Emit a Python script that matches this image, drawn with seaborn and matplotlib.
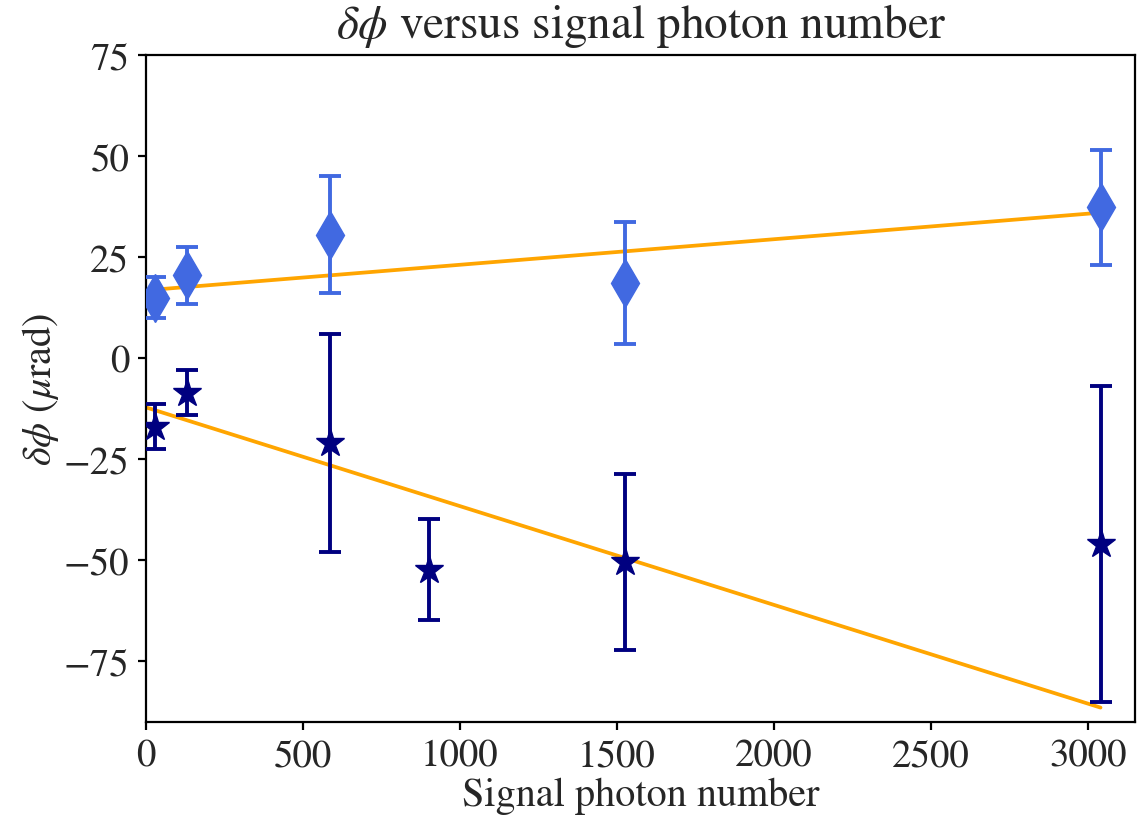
import numpy as np
import pandas as pd
import matplotlib
matplotlib.use("Agg")
import matplotlib.pyplot as plt
import seaborn as sns

# photon numbers
x_pts = [30, 130, 585, 900, 1525, 3040]

# upper series (diamonds), no point at 900
x_up = [30, 130, 585, 1525, 3040]
y_up = [15.0, 20.5, 30.6, 18.6, 37.3]
e_up = [5.0, 7.0, 14.4, 15.0, 14.3]

# lower series (stars)
x_lo = [30, 130, 585, 900, 1525, 3040]
y_lo = [-16.9, -8.5, -21.0, -52.3, -50.5, -46.0]
e_lo = [5.5, 5.6, 27.0, 12.4, 21.8, 39.0]

sns.set_theme(style="ticks")
plt.rcParams['font.family'] = ['STIXGeneral', 'DejaVu Serif']
plt.rcParams['mathtext.fontset'] = 'stix'
plt.rcParams['axes.unicode_minus'] = True

fig = plt.figure(figsize=(11.38, 8.29), dpi=100)
ax = fig.add_axes([0.1283, 0.1279, 0.8691, 0.8045])

# weighted linear fits drawn from 0 to the last photon number
xf = np.array([0, max(x_pts)])
for xs, ys, es in [(x_up, y_up, e_up), (x_lo, y_lo, e_lo)]:
    p = np.polyfit(xs, ys, 1, w=1 / np.array(es))
    fit_df = pd.DataFrame({'x': xf, 'y': np.polyval(p, xf)})
    sns.lineplot(data=fit_df, x='x', y='y', color='orange', lw=2.7, ax=ax, zorder=1)

ax.errorbar(x_up, y_up, yerr=e_up, fmt='d', color='royalblue', ms=24,
            elinewidth=2.8, capsize=8, capthick=2.8, zorder=3)
ax.errorbar(x_lo, y_lo, yerr=e_lo, fmt='*', color='navy', ms=21,
            elinewidth=2.8, capsize=8, capthick=2.8, zorder=3)

ax.set_xlim(0, 3150)
ax.set_ylim(-90, 75)
ax.set_yticks([-75, -50, -25, 0, 25, 50, 75])
ax.set_xticks([0, 500, 1000, 1500, 2000, 2500, 3000])

for s in ax.spines.values():
    s.set_linewidth(1.6)
    s.set_color('black')
ax.tick_params(axis='both', labelsize=28, length=6, width=1.6, color='black',
               direction='out', pad=6)

ax.set_title(r'$\delta\phi$ versus signal photon number', fontsize=34, pad=13)
ax.set_xlabel('Signal photon number', fontsize=29, labelpad=2)
ax.set_ylabel(r'$\delta\phi$ ($\mu$rad)', fontsize=29, labelpad=2)

fig.savefig('out.png', dpi=100)
